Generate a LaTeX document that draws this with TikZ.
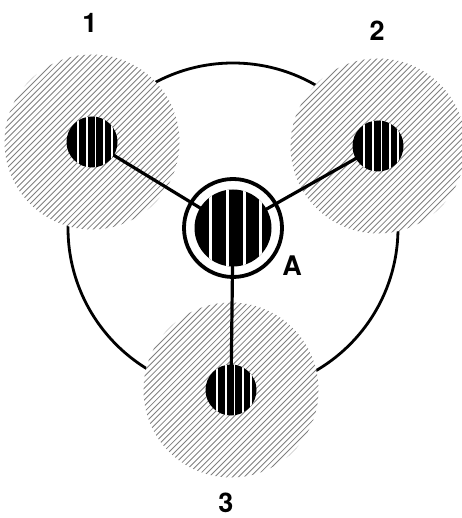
\documentclass[tikz,border=0pt]{standalone}
\usepackage{fontspec}
\setmainfont{TeX Gyre Heros}
\begin{document}
\begin{tikzpicture}[x=1pt,y=-1pt,
  hatchline/.style={draw=black!50,line width=0.85pt},
  conn/.style={line width=3.2pt,black},
  stripe/.style={white,line width=1.9pt},
  bigstripe/.style={white,line width=3pt},
  lbl/.style={font=\fontsize{27}{27}\selectfont\bfseries,inner sep=0pt}]
\useasboundingbox (0,0) rectangle (461,518);
\fill[white] (0,0) rectangle (461,518);
\coordinate (A) at (233,228);
\coordinate (P1) at (92,142);
\coordinate (P2) at (378,146);
\coordinate (P3) at (231,390);
% large circle
\draw[line width=2.8pt] (A) circle (165);
% hatched disks
\foreach \p in {P1,P2,P3}{
  \begin{scope}[shift={(\p)}]
    \fill[white] (0,0) circle (87.5);
    \clip (0,0) circle (87.5);
    \foreach \k in {-36,...,36}
      \draw[hatchline] ({\k*5.9-100},100) -- ({\k*5.9+100},-100);
  \end{scope}
}
% connectors
\draw[conn] (A) -- (P1);
\draw[conn] (A) -- (P2);
\draw[conn] (A) -- (P3);
% small striped disks
\foreach \p in {P1,P2,P3}{
  \begin{scope}[shift={(\p)}]
    \fill (0,0) circle (25.5);
    \clip (0,0) circle (25.5);
    \foreach \s in {-14,-5,3.5,12,20}
      \draw[stripe] (\s,-30) -- (\s,30);
  \end{scope}
}
% central element A
\draw[line width=3.8pt] (A) circle (49);
\begin{scope}[shift={(A)}]
  \fill (0,0) circle (38.5);
  \clip (0,0) circle (38.5);
  \foreach \s in {-23,-6,11,27}
    \draw[bigstripe] (\s,-45) -- (\s,45);
\end{scope}
% labels
\node[lbl] (l1) at (90,23) {1};
\node[lbl] (l2) at (377,31) {2};
\node[lbl] (l3) at (226,503) {3};
\node[lbl] (lA) at (292,266) {A};
\end{tikzpicture}
\end{document}
